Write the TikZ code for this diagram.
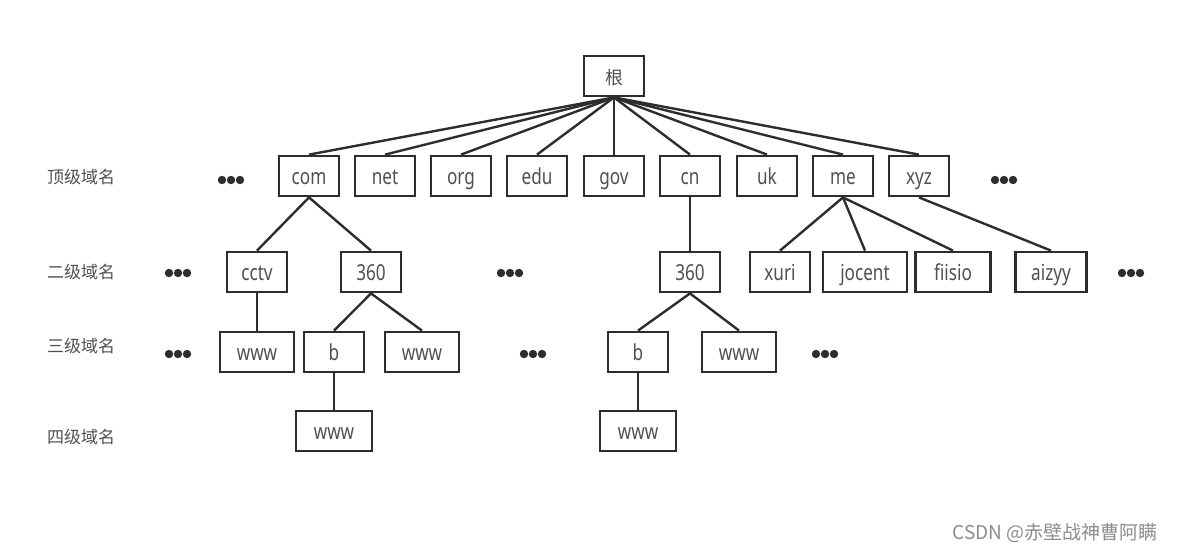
\documentclass[tikz,border=0pt]{standalone}
\usepackage{fontspec}
\setmainfont{Noto Sans}[FakeStretch=0.78]
\newfontfamily\cjk{Noto Sans CJK SC}
\usetikzlibrary{positioning}
\definecolor{ink}{RGB}{45,45,45}
\definecolor{txt}{RGB}{80,80,80}
\tikzset{
  every picture/.style={x=0.5pt,y=-0.5pt},
  dom/.style={draw=ink,line width=1.4pt,fill=white,text=txt,minimum width=30pt,
    minimum height=20pt,inner sep=0pt,text height=8.5pt,text depth=0pt,
    font=\fontsize{11}{12}\selectfont},
  link/.style={draw=ink,line width=1.2pt},
  level/.style={text=txt,font=\cjk\fontsize{8.5}{10}\selectfont},
}

\begin{document}
\begin{tikzpicture}
  \useasboundingbox (0,0) rectangle (1177,554);
  % root
  \node[dom,font=\cjk\fontsize{9}{10}\selectfont] (root) at (614,76) {根};
  % top level
  \node[dom] (com) at (309,176) {com};
  \node[dom] (net) at (385,176) {net};
  \node[dom] (org) at (461,176) {org};
  \node[dom] (edu) at (537,176) {edu};
  \node[dom] (gov) at (614,176) {gov};
  \node[dom] (cn)  at (690,176) {cn};
  \node[dom] (uk)  at (767,176) {uk};
  \node[dom] (me)  at (843,176) {me};
  \node[dom] (xyz) at (919,176) {xyz};
  % second level
  \node[dom] (cctv)   at (257,272) {cctv};
  \node[dom] (comsix) at (371,272) {360};
  \node[dom] (cnsix)  at (690,272) {360};
  \node[dom] (xuri)   at (780,272) {xuri};
  \node[dom,minimum width=42pt]   (jocent) at (865,272) {jocent};
  \node[dom,minimum width=37.5pt] (fiisio) at (953,272) {fiisio};
  \node[dom,minimum width=35.5pt] (aizyy)  at (1051,272) {aizyy};
  % third level
  \node[dom,minimum width=37pt] (cctvwww) at (257,352) {www};
  \node[dom]                    (comb)    at (334,352) {b};
  \node[dom,minimum width=37pt] (comwww)  at (422,352) {www};
  \node[dom]                    (cnb)     at (638,352) {b};
  \node[dom,minimum width=37pt] (cnwww)   at (739,352) {www};
  % fourth level
  \node[dom,minimum width=38pt] (combwww) at (334,431) {www};
  \node[dom,minimum width=38pt] (cnbwww)  at (638,431) {www};
  % connectors
  \foreach \t in {com,net,org,edu,gov,cn,uk,me,xyz}
    \draw[link] (root.south) -- (\t.north);
  \foreach \p/\c in {com/cctv,com/comsix,cn/cnsix,me/xuri,me/jocent,me/fiisio,xyz/aizyy,
      cctv/cctvwww,comsix/comb,comsix/comwww,cnsix/cnb,cnsix/cnwww,comb/combwww,cnb/cnbwww}
    \draw[link] (\p.south) -- (\c.north);
  % ellipses
  \foreach \x/\y in {231/180,1004/180,178/273,510/273,1131/273,178/354,533/354,825/354}
    \foreach \d in {-9,0,9}
      \fill[ink] (\x+\d,\y) circle (2.1pt);
  % level labels
  \node[level] (lone)   at (81,177) {顶级域名};
  \node[level] (ltwo)   at (81,272) {二级域名};
  \node[level] (lthree) at (81,346) {三级域名};
  \node[level] (lfour)  at (81,437) {四级域名};
  \node[level,font=\cjk\fontsize{9.5}{11}\selectfont,text=black!45] (mark) at (1055,533) {CSDN @赤壁战神曹阿瞒};
\end{tikzpicture}
\end{document}
